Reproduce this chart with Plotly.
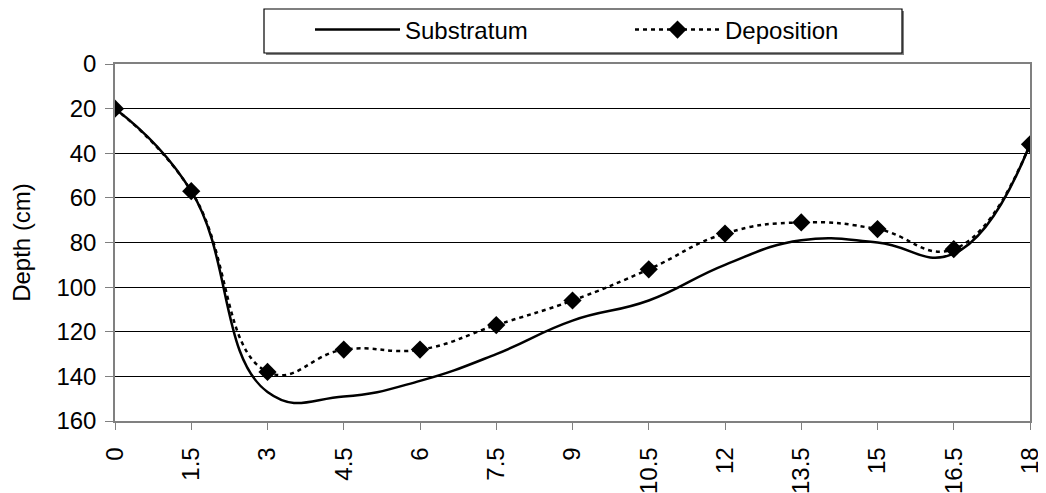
import plotly.graph_objects as go

distance = [0, 1.5, 3, 4.5, 6, 7.5, 9, 10.5, 12, 13.5, 15, 16.5, 18]
tick_labels = ["0", "1.5", "3", "4.5", "6", "7.5", "9", "10.5", "12", "13.5", "15", "16.5", "18"]
substratum = [20, 57, 147, 149, 142, 130, 115, 106, 90, 79, 80, 85, 36]
deposition = [20, 57, 138, 128, 128, 117, 106, 92, 76, 71, 74, 83, 36]

FONT = "Arial, 'Liberation Sans', sans-serif"

# page body has an 8px default margin; size the figure so it fits the window
W, H = 1038, 485

fig = go.Figure()
fig.add_trace(go.Scatter(
    x=distance, y=substratum, name="Substratum", mode="lines",
    line=dict(color="black", width=2.5, shape="spline", smoothing=1.3),
))
fig.add_trace(go.Scatter(
    x=distance, y=deposition, name="Deposition", mode="lines+markers",
    line=dict(color="black", width=2.5, dash="4px,4px", shape="spline", smoothing=1.3),
    marker=dict(symbol="diamond", size=14, color="black"),
))

# legend frame (with drop shadow), drawn as decoration behind the legend entries
def px_x(p):
    return (p - 115) / 915.0

def px_y(p):
    return (421 - p) / 357.0

fig.add_shape(type="rect", xref="paper", yref="paper",
              x0=px_x(266), x1=px_x(904), y0=px_y(55), y1=px_y(11),
              line=dict(width=0), fillcolor="#808080", layer="above")
fig.add_shape(type="rect", xref="paper", yref="paper",
              x0=px_x(264), x1=px_x(902), y0=px_y(53), y1=px_y(9),
              line=dict(width=1.2, color="black"), fillcolor="white", layer="above")

fig.update_layout(
    width=W, height=H,
    margin=dict(l=107, r=16, t=56, b=72, autoexpand=False),
    paper_bgcolor="white", plot_bgcolor="white",
    font=dict(family=FONT, size=24, color="black"),
    showlegend=True,
    legend=dict(
        orientation="h", xref="container", yref="container",
        xanchor="left", x=(310 - 8) / W, yanchor="middle", y=1 - (30 - 8) / H,
        borderwidth=0, bgcolor="rgba(0,0,0,0)",
        itemwidth=85, entrywidth=220, font=dict(size=24),
    ),
    xaxis=dict(
        range=[0, 18], tickvals=distance, ticktext=tick_labels, tickangle=-90,
        ticks="outside", ticklen=7, tickcolor="#808080", ticklabelstandoff=8,
        showline=True, linecolor="#808080", linewidth=1.5, mirror=True,
        showgrid=False, zeroline=False, automargin=False,
    ),
    yaxis=dict(
        range=[160, 0], dtick=20, tick0=0,
        ticks="outside", ticklen=8, tickcolor="#808080", ticklabelstandoff=4,
        showline=True, linecolor="#808080", linewidth=1.5, mirror=True,
        showgrid=True, gridcolor="black", gridwidth=1, zeroline=False,
        automargin=False,
        title=dict(text="Depth (cm)", standoff=20, font=dict(size=24)),
    ),
)

fig.write_html("out.html")
